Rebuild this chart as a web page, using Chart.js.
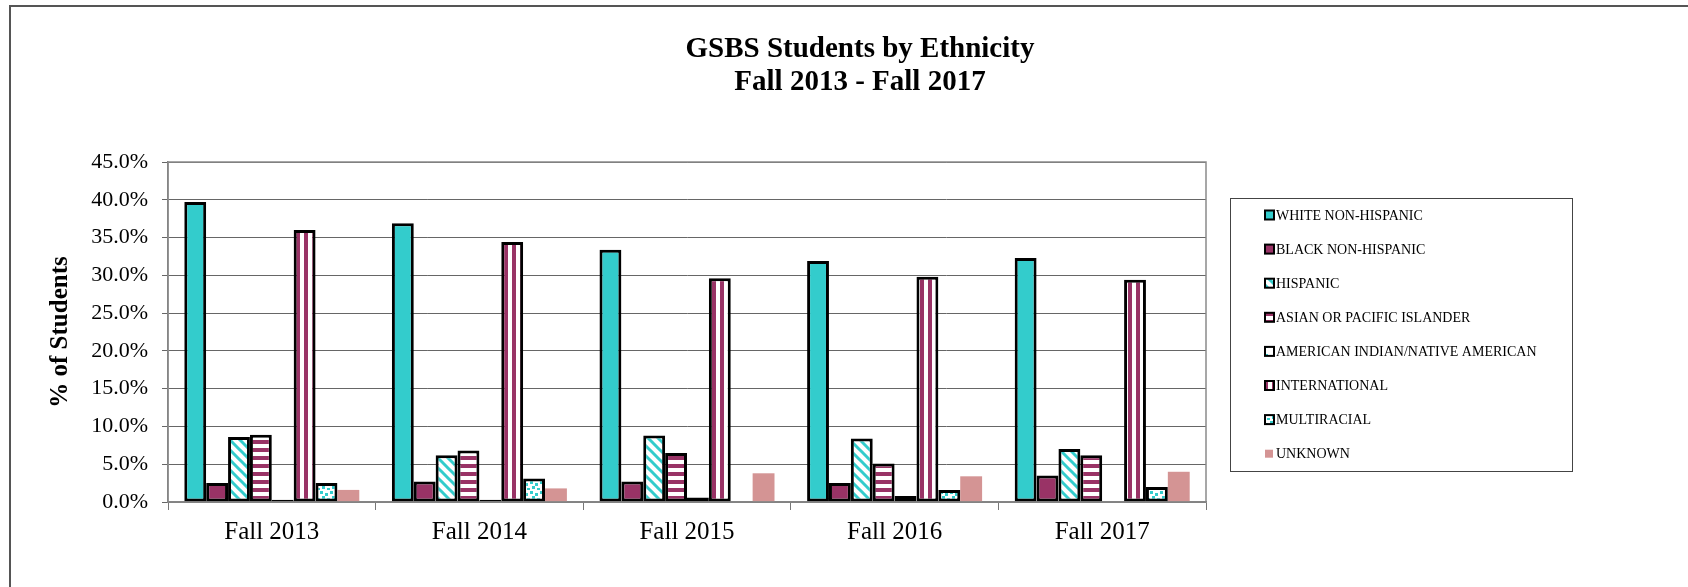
<!DOCTYPE html>
<html>
<head>
<meta charset="utf-8">
<script src="https://cdn.jsdelivr.net/npm/chart.js@4"></script>
<style>
  html, body { margin: 0; padding: 0; background: #fff; }
  #wrap { width: 1688px; height: 587px; position: relative; }
</style>
</head>
<body>
<div id="wrap"><canvas id="c" width="1688" height="587"></canvas></div>
<script>
const terms = ['Fall 2013', 'Fall 2014', 'Fall 2015', 'Fall 2016', 'Fall 2017'];
const titleLines = ['GSBS Students by Ethnicity', 'Fall 2013 - Fall 2017'];
const yTicks = [0, 5, 10, 15, 20, 25, 30, 35, 40, 45];

// % of students
const white         = [39.7, 36.9, 33.4, 31.9, 32.3];
const black         = [2.5, 2.7, 2.7, 2.5, 3.5];
const hispanic      = [8.6, 6.2, 8.8, 8.4, 7.0];
const asian         = [8.9, 6.8, 6.5, 5.1, 6.2];
const amIndian      = [0.3, 0.3, 0.6, 0.8, 0];
const international = [36.0, 34.4, 29.6, 29.8, 29.4];
const multiracial   = [2.5, 3.1, 0, 1.6, 2.0];
const unknown       = [1.6, 1.8, 3.8, 3.4, 4.0];

const TEAL = '#33CCCC', MAROON = '#993366', PINK = '#D49494';
const SERIF = '"Liberation Serif", "Times New Roman", serif';

const canvas = document.getElementById('c');
const ctx = canvas.getContext('2d');

function pattern(size, draw) {
    const tile = document.createElement('canvas');
    tile.width = size; tile.height = size;
    const g = tile.getContext('2d');
    g.fillStyle = '#fff';
    g.fillRect(0, 0, size, size);
    draw(g);
    return ctx.createPattern(tile, 'repeat');
}

const diagTeal = pattern(10, g => {
    g.strokeStyle = TEAL; g.lineWidth = 3;
    [-10, 0, 10].forEach(k => { g.beginPath(); g.moveTo(k - 2, -2); g.lineTo(k + 12, 12); g.stroke(); });
});
const hStripes = pattern(8, g => { g.fillStyle = MAROON; g.fillRect(0, 0, 8, 4); });
const vStripes = pattern(8, g => { g.fillStyle = MAROON; g.fillRect(0, 0, 4, 8); });
const dotsTeal = pattern(10, g => {
    g.fillStyle = TEAL;
    g.fillRect(0, 1, 3, 3); g.fillRect(5, 3, 3, 3);
    g.fillRect(2, 6, 3, 3); g.fillRect(7, 8, 3, 2);
});
const sparseTeal = pattern(8, g => { g.fillStyle = TEAL; g.fillRect(2, 2, 2, 2); });

const series = [
    ['WHITE NON-HISPANIC', white, TEAL],
    ['BLACK NON-HISPANIC', black, MAROON],
    ['HISPANIC', hispanic, diagTeal],
    ['ASIAN OR PACIFIC ISLANDER', asian, hStripes],
    ['AMERICAN INDIAN/NATIVE AMERICAN', amIndian, sparseTeal],
    ['INTERNATIONAL', international, vStripes],
    ['MULTIRACIAL', multiracial, dotsTeal],
    ['UNKNOWN', unknown, PINK]
];

const datasets = series.map(([label, data, fill]) => ({
    label,
    data,
    backgroundColor: fill,
    borderColor: '#000',
    borderWidth: label === 'UNKNOWN' ? 0 : 3,
    borderSkipped: false,
    categoryPercentage: 0.843,
    barPercentage: 1.0
}));

// frame, title, plot border and the boxed legend
const decor = {
    id: 'decor',
    afterDraw(chart) {
        const c = chart.ctx;
        const a = chart.chartArea;
        c.save();

        c.strokeStyle = '#555';
        c.lineWidth = 2;
        c.beginPath();
        c.moveTo(10, 587); c.lineTo(10, 6); c.lineTo(1688, 6);
        c.stroke();

        c.strokeStyle = '#8a8a8a';
        c.lineWidth = 1.5;
        c.strokeRect(a.left, a.top, a.right - a.left, a.bottom - a.top);

        c.fillStyle = '#000';
        c.textAlign = 'center';
        c.textBaseline = 'middle';
        c.font = 'bold 29px ' + SERIF;
        c.fillText(titleLines[0], 860, 50);
        c.fillText(titleLines[1], 860, 83);

        c.strokeStyle = '#444';
        c.lineWidth = 1;
        c.strokeRect(1230.5, 198.5, 342, 273);

        c.textAlign = 'left';
        c.font = '14px ' + SERIF;
        chart.data.datasets.forEach((ds, i) => {
            const y = 215 + i * 34.1;
            c.fillStyle = ds.backgroundColor;
            if (ds.borderWidth) {
                c.fillRect(1265, y - 4.5, 9, 9);
                c.strokeStyle = '#000';
                c.lineWidth = 2;
                c.strokeRect(1265, y - 4.5, 9, 9);
            } else {
                c.fillRect(1265, y - 4, 8, 8);
            }
            c.fillStyle = '#000';
            c.fillText(ds.label, 1276, y + 1);
        });
        c.restore();
    }
};

new Chart(ctx, {
    type: 'bar',
    data: { labels: terms, datasets },
    options: {
        responsive: false,
        animation: false,
        layout: { padding: { left: 0, top: 162, right: 482, bottom: 0 } },
        plugins: {
            legend: { display: false },
            title: { display: false },
            tooltip: { enabled: false }
        },
        scales: {
            x: {
                afterFit: s => { s.height = 85; },
                grid: { offset: true, drawOnChartArea: false, tickLength: 8, color: '#777' },
                border: { color: '#777', width: 1.5 },
                ticks: { color: '#000', padding: 7, font: { family: SERIF, size: 25 } }
            },
            y: {
                min: 0,
                max: 45,
                afterFit: s => { s.width = 168; },
                afterBuildTicks: s => { s.ticks = yTicks.map(v => ({ value: v })); },
                grid: { color: '#666', lineWidth: 1, tickLength: 6 },
                border: { color: '#777', width: 1.5 },
                ticks: {
                    color: '#000',
                    padding: 14,
                    font: { family: SERIF, size: 22 },
                    callback: v => v.toFixed(1) + '%'
                },
                title: {
                    display: true,
                    text: '% of Students',
                    color: '#000',
                    padding: { top: 46, bottom: 0 },
                    font: { family: SERIF, size: 25, weight: 'bold' }
                }
            }
        }
    },
    plugins: [decor]
});
</script>
</body>
</html>
